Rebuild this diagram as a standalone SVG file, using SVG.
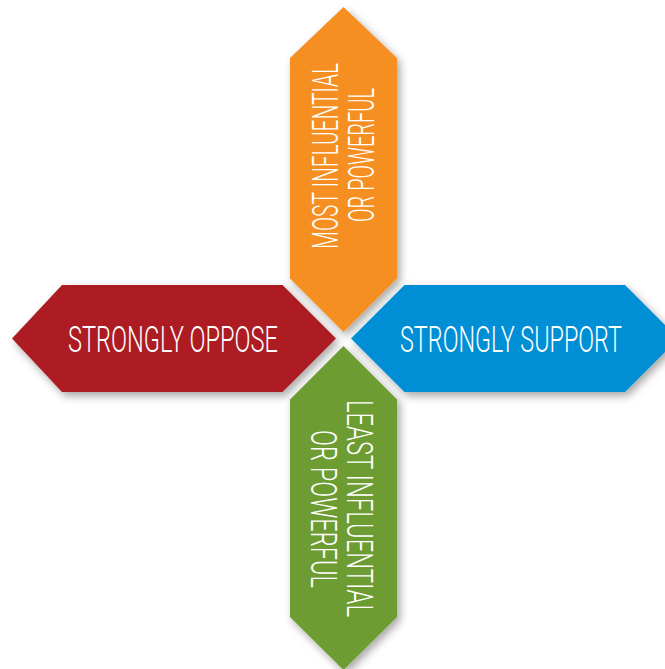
<svg xmlns="http://www.w3.org/2000/svg" width="665" height="669" viewBox="0 0 665 669">
<defs>
<style>
.lbl{fill:#ffffff;font-family:Roboto,"Liberation Sans",sans-serif;font-weight:300;font-size:36px;}
.arrow{filter:url(#sh);}
</style>
<filter id="sh" x="-20%" y="-20%" width="140%" height="140%">
<feDropShadow dx="3" dy="4" stdDeviation="4" flood-color="#000000" flood-opacity="0.35"/>
</filter>
</defs>
<rect width="665" height="669" fill="#ffffff"/>
<g id="orange">
<polygon class="arrow" fill="#F58F22" points="343.5,7 397,58 397,278.5 343.5,332 290,278.5 290,58"/>
<text class="lbl" transform="translate(338,249) rotate(-90)" textLength="186" lengthAdjust="spacingAndGlyphs">MOST INFLUENTIAL</text>
<text class="lbl" transform="translate(374,222) rotate(-90)" textLength="134" lengthAdjust="spacingAndGlyphs">OR POWERFUL</text>
</g>
<g id="red">
<polygon class="arrow" fill="#AD1E23" points="12,338.5 62,285 282.5,285 336,338.5 282.5,392 62,392"/>
<text class="lbl" x="68" y="352" textLength="210" lengthAdjust="spacingAndGlyphs">STRONGLY OPPOSE</text>
</g>
<g id="blue">
<polygon class="arrow" fill="#008FD5" points="351,338.5 404.5,285 625,285 678.5,338.5 625,392 404.5,392"/>
<text class="lbl" x="400" y="352" textLength="222" lengthAdjust="spacingAndGlyphs">STRONGLY SUPPORT</text>
</g>
<g id="green">
<polygon class="arrow" fill="#6D9C31" points="343.5,346 397,399.5 397,617 343.5,670 290,617 290,399.5"/>
<text class="lbl" transform="translate(347,400) rotate(90)" textLength="217" lengthAdjust="spacingAndGlyphs">LEAST INFLUENTIAL</text>
<text class="lbl" transform="translate(311,430) rotate(90)" textLength="158" lengthAdjust="spacingAndGlyphs">OR POWERFUL</text>
</g>
<g id="connectors"></g>
</svg>
